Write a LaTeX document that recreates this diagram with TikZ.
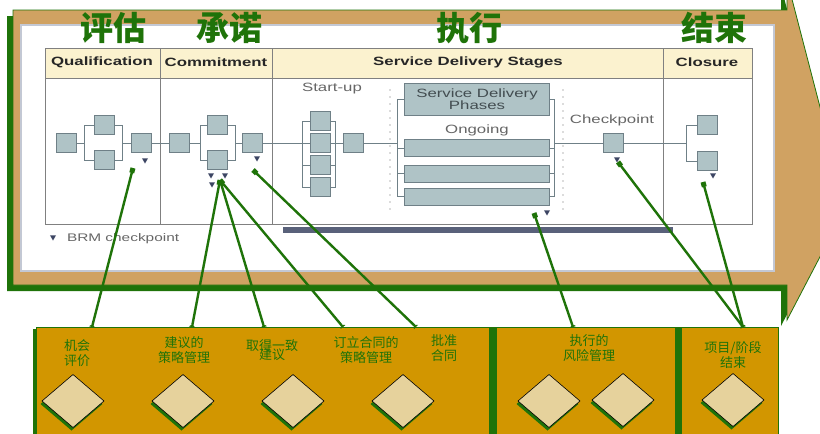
\documentclass[tikz,border=0pt]{standalone}
\usepackage{fontspec,graphicx}
\setmainfont{Liberation Sans}
\newfontfamily\cjk{Noto Sans CJK SC}
\usetikzlibrary{arrows.meta,shapes.geometric,shadows}
\definecolor{frame}{HTML}{D0A262}
\definecolor{leaf}{HTML}{1F7309}
\definecolor{gold}{HTML}{D29600}
\definecolor{sand}{HTML}{E6D29C}
\definecolor{boxc}{HTML}{AFC3C6}
\definecolor{boxd}{HTML}{6F8087}
\definecolor{headc}{HTML}{FBF2CF}
\definecolor{navy}{HTML}{3C4563}
\definecolor{shotc}{HTML}{C3C8D4}
\newcommand{\wide}[1]{\scalebox{1.4}[1]{#1}}

\begin{document}
\begin{tikzpicture}[x=1pt,y=-1pt,
    every node/.style={inner sep=0pt, outer sep=0pt},
    stage/.style={draw=boxd, fill=boxc, line width=.7pt, minimum width=20pt, minimum height=19pt},
    bar/.style={stage, minimum width=145pt, minimum height=17pt},
    flow/.style={draw=boxd, line width=.7pt},
    dots/.style={draw=gray!55, line width=1.6pt, line cap=round, dash pattern=on 0pt off 7pt},
    brmtip/.style={regular polygon, regular polygon sides=3, shape border rotate=180, fill=navy, minimum size=7pt},
    link/.style={draw=leaf, line width=2.4pt, {Triangle[reversed,length=3pt,width=6pt]}-{Square[length=5pt,width=5pt]}},
    gem/.style={diamond, draw=black, line width=.6pt, fill=sand, minimum width=62pt, minimum height=53pt,
        drop shadow={shadow xshift=-1.5pt, shadow yshift=-3pt, fill=leaf, opacity=1}},
    aim/.style={align=center, text=leaf, font=\cjk\fontsize{13}{15.5}\selectfont},
    phase/.style={text=leaf, font=\cjk\bfseries\fontsize{33}{33}\selectfont},
    headtxt/.style={font=\bfseries\fontsize{12}{12}\selectfont, text=black!85},
    notetxt/.style={font=\fontsize{12}{12}\selectfont, text=black!60}]
    \useasboundingbox (0,0) rectangle (820,434);
    \clip (0,0) rectangle (820,434);
    \fill[white] (0,0) rectangle (820,434);

    % big arrow with its shadow
    \fill[leaf] (7,16) -- (781,16) -- (781,-14) -- (840,213) -- (781,326) -- (781,291) -- (7,291) -- cycle;
    \filldraw[fill=frame, draw=leaf, line width=.8pt] (13,10) -- (787,10) -- (787,-20) -- (846,207) -- (787,320) -- (787,285) -- (13,285) -- cycle;
    \filldraw[fill=white, draw=shotc, line width=2.5pt] (21,25) rectangle (774,271);

    % table
    \fill[headc] (45,48) rectangle (752,78);
    \draw[gray] (45,48) rectangle (752,224);
    \draw[gray] (45,78) -- (752,78);
    \draw[gray] (160,48) -- (160,224);
    \draw[gray] (272,48) -- (272,224);
    \draw[gray] (663,48) -- (663,224);
    \node[headtxt] (qual) at (102,62) {\wide{Qualification}};
    \node[headtxt] (comm) at (216,62) {\wide{Commitment}};
    \node[headtxt] (serv) at (468,62) {\wide{Service Delivery Stages}};
    \node[headtxt] (clos) at (707,62) {\wide{Closure}};

    % qualification
    \node[stage] (q1) at (66,143) {};
    \node[stage] (q2) at (104,125) {};
    \node[stage] (q3) at (104,160) {};
    \node[stage] (q4) at (141,143) {};
    \draw[flow] (q1.east) -- ++(8,0) |- (q2.west);
    \draw[flow] (q1.east) -- ++(8,0) |- (q3.west);
    \draw[flow] (q2.east) -- ++(8,0) |- (q4.west);
    \draw[flow] (q3.east) -- ++(8,0) |- (q4.west);

    % commitment
    \node[stage] (c1) at (179,143) {};
    \node[stage] (c2) at (217,125) {};
    \node[stage] (c3) at (217,160) {};
    \node[stage] (c4) at (252,143) {};
    \draw[flow] (q4.east) -- (c1.west);
    \draw[flow] (c1.east) -- ++(11,0) |- (c2.west);
    \draw[flow] (c1.east) -- ++(11,0) |- (c3.west);
    \draw[flow] (c2.east) -- ++(8,0) |- (c4.west);
    \draw[flow] (c3.east) -- ++(8,0) |- (c4.west);

    % start-up
    \node[notetxt] (start) at (332,89) {\wide{Start-up}};
    \node[stage] (s1) at (320,121) {};
    \node[stage] (s2) at (320,143) {};
    \node[stage] (s3) at (320,165) {};
    \node[stage] (s4) at (320,187) {};
    \node[stage] (s5) at (353,143) {};
    \draw[flow] (c4.east) -- ++(40,0);
    \draw[flow] (s1.west) -- ++(-8,0) |- (s4.west);
    \draw[flow] (s2.west) -- ++(-8,0);
    \draw[flow] (s3.west) -- ++(-8,0);
    \draw[flow] (s1.east) -- ++(5,0) |- (s4.east);
    \draw[flow] (s3.east) -- ++(5,0);
    \draw[flow] (s2.east) -- (s5.west);

    % ongoing phases
    \draw[dots] (390,90) -- (390,216);
    \draw[dots] (563,90) -- (563,216);
    \node[stage, minimum width=145pt, minimum height=32pt, align=center, text=boxd!60!black,
        font=\fontsize{12}{11}\selectfont] (ph) at (477,99) {\wide{Service Delivery}\\\wide{Phases}};
    \node[notetxt] (ongo) at (477,130) {\wide{Ongoing}};
    \node[bar] (b1) at (477,148) {};
    \node[bar] (b2) at (477,173.5) {};
    \node[bar] (b3) at (477,196.5) {};
    \draw[flow] (s5.east) -- ++(35,0);
    \draw[flow] (ph.west) -- ++(-7,0) |- (b3.west);
    \draw[flow] (b1.west) -- ++(-7,0);
    \draw[flow] (b2.west) -- ++(-7,0);
    \draw[flow] (ph.east) -- ++(5,0) |- (b3.east);
    \draw[flow] (b1.east) -- ++(5,0);
    \draw[flow] (b2.east) -- ++(5,0);

    % checkpoint and closure
    \node[notetxt] (chkp) at (612,120) {\wide{Checkpoint}};
    \node[stage] (ch) at (613,143) {};
    \node[stage] (cl1) at (707,125) {};
    \node[stage] (cl2) at (707,161) {};
    \draw[flow] (ch.west) -- ++(-48,0);
    \draw[flow] (ch.east) -- ++(63,0);
    \draw[flow] (cl1.west) -- ++(-11,0) |- (cl2.west);

    % brm checkpoints
    \node[brmtip] (m1) at (145,160) {};
    \node[brmtip] (m2) at (211,175) {};
    \node[brmtip] (m3) at (225,175) {};
    \node[brmtip] (m4) at (212,184) {};
    \node[brmtip] (m5) at (257,158) {};
    \node[brmtip] (m6) at (547,212) {};
    \node[brmtip] (m7) at (617,159) {};
    \node[brmtip] (m8) at (713,175) {};
    \node[brmtip] (m0) at (53,237) {};
    \node[notetxt, anchor=west, font=\fontsize{11}{11}\selectfont] (legend) at (67,239) {\wide{BRM checkpoint}};
    \fill[navy!85] (283,227) rectangle (673,233);

    % titles
    \node[phase] (t1) at (113,28) {评估};
    \node[phase] (t2) at (229,28) {承诺};
    \node[phase] (t3) at (469,28) {执行};
    \node[phase] (t4) at (714,28) {结束};

    % lower panel
    \fill[leaf] (33,329) rectangle (778,440);
    \filldraw[fill=gold, draw=leaf, line width=.8pt] (36,327) rectangle (778,440);
    \fill[leaf] (489,327) rectangle (497,440);
    \fill[leaf] (675,327) rectangle (682,440);
    \node[aim] (l1) at (77,353) {机会\\评价};
    \node[aim] (l2) at (184,350) {建议的\\策略管理};
    \node[aim] (l3a) at (272,346) {取得一致};
    \node[aim] (l3b) at (272,355) {建议};
    \node[aim] (l4) at (366,350) {订立合同的\\策略管理};
    \node[aim] (l5) at (444,348) {批准\\合同};
    \node[aim] (l6) at (589,348) {执行的\\风险管理};
    \node[aim] (l7) at (733,355) {项目/阶段\\结束};
    \node[gem] (d1) at (73,401) {};
    \node[gem] (d2) at (183,401) {};
    \node[gem] (d3) at (293,401) {};
    \node[gem] (d4) at (403,401) {};
    \node[gem] (d5) at (549,401) {};
    \node[gem] (d6) at (623,400) {};
    \node[gem] (d7) at (733,400) {};

    % links
    \coordinate (qend) at (133,168);
    \coordinate (cend) at (220,180);
    \coordinate (cout) at (253,170);
    \coordinate (oend) at (534,213);
    \coordinate (kend) at (618,162);
    \coordinate (zend) at (703,182);
    \coordinate (f1) at (92,327);
    \coordinate (f2) at (192,327);
    \coordinate (f3) at (264,327);
    \coordinate (f4) at (343,327);
    \coordinate (f5) at (416,327);
    \coordinate (f6) at (573,327);
    \coordinate (f7) at (743,327);
    \draw[link] (f1) -- (qend);
    \draw[link] (f2) -- (cend);
    \draw[link] (f3) -- (cend);
    \draw[link] (f4) -- (cend);
    \draw[link] (f5) -- (cout);
    \draw[link] (f6) -- (oend);
    \draw[link] (f7) -- (kend);
    \draw[link] (f7) -- (zend);
\end{tikzpicture}
\end{document}
